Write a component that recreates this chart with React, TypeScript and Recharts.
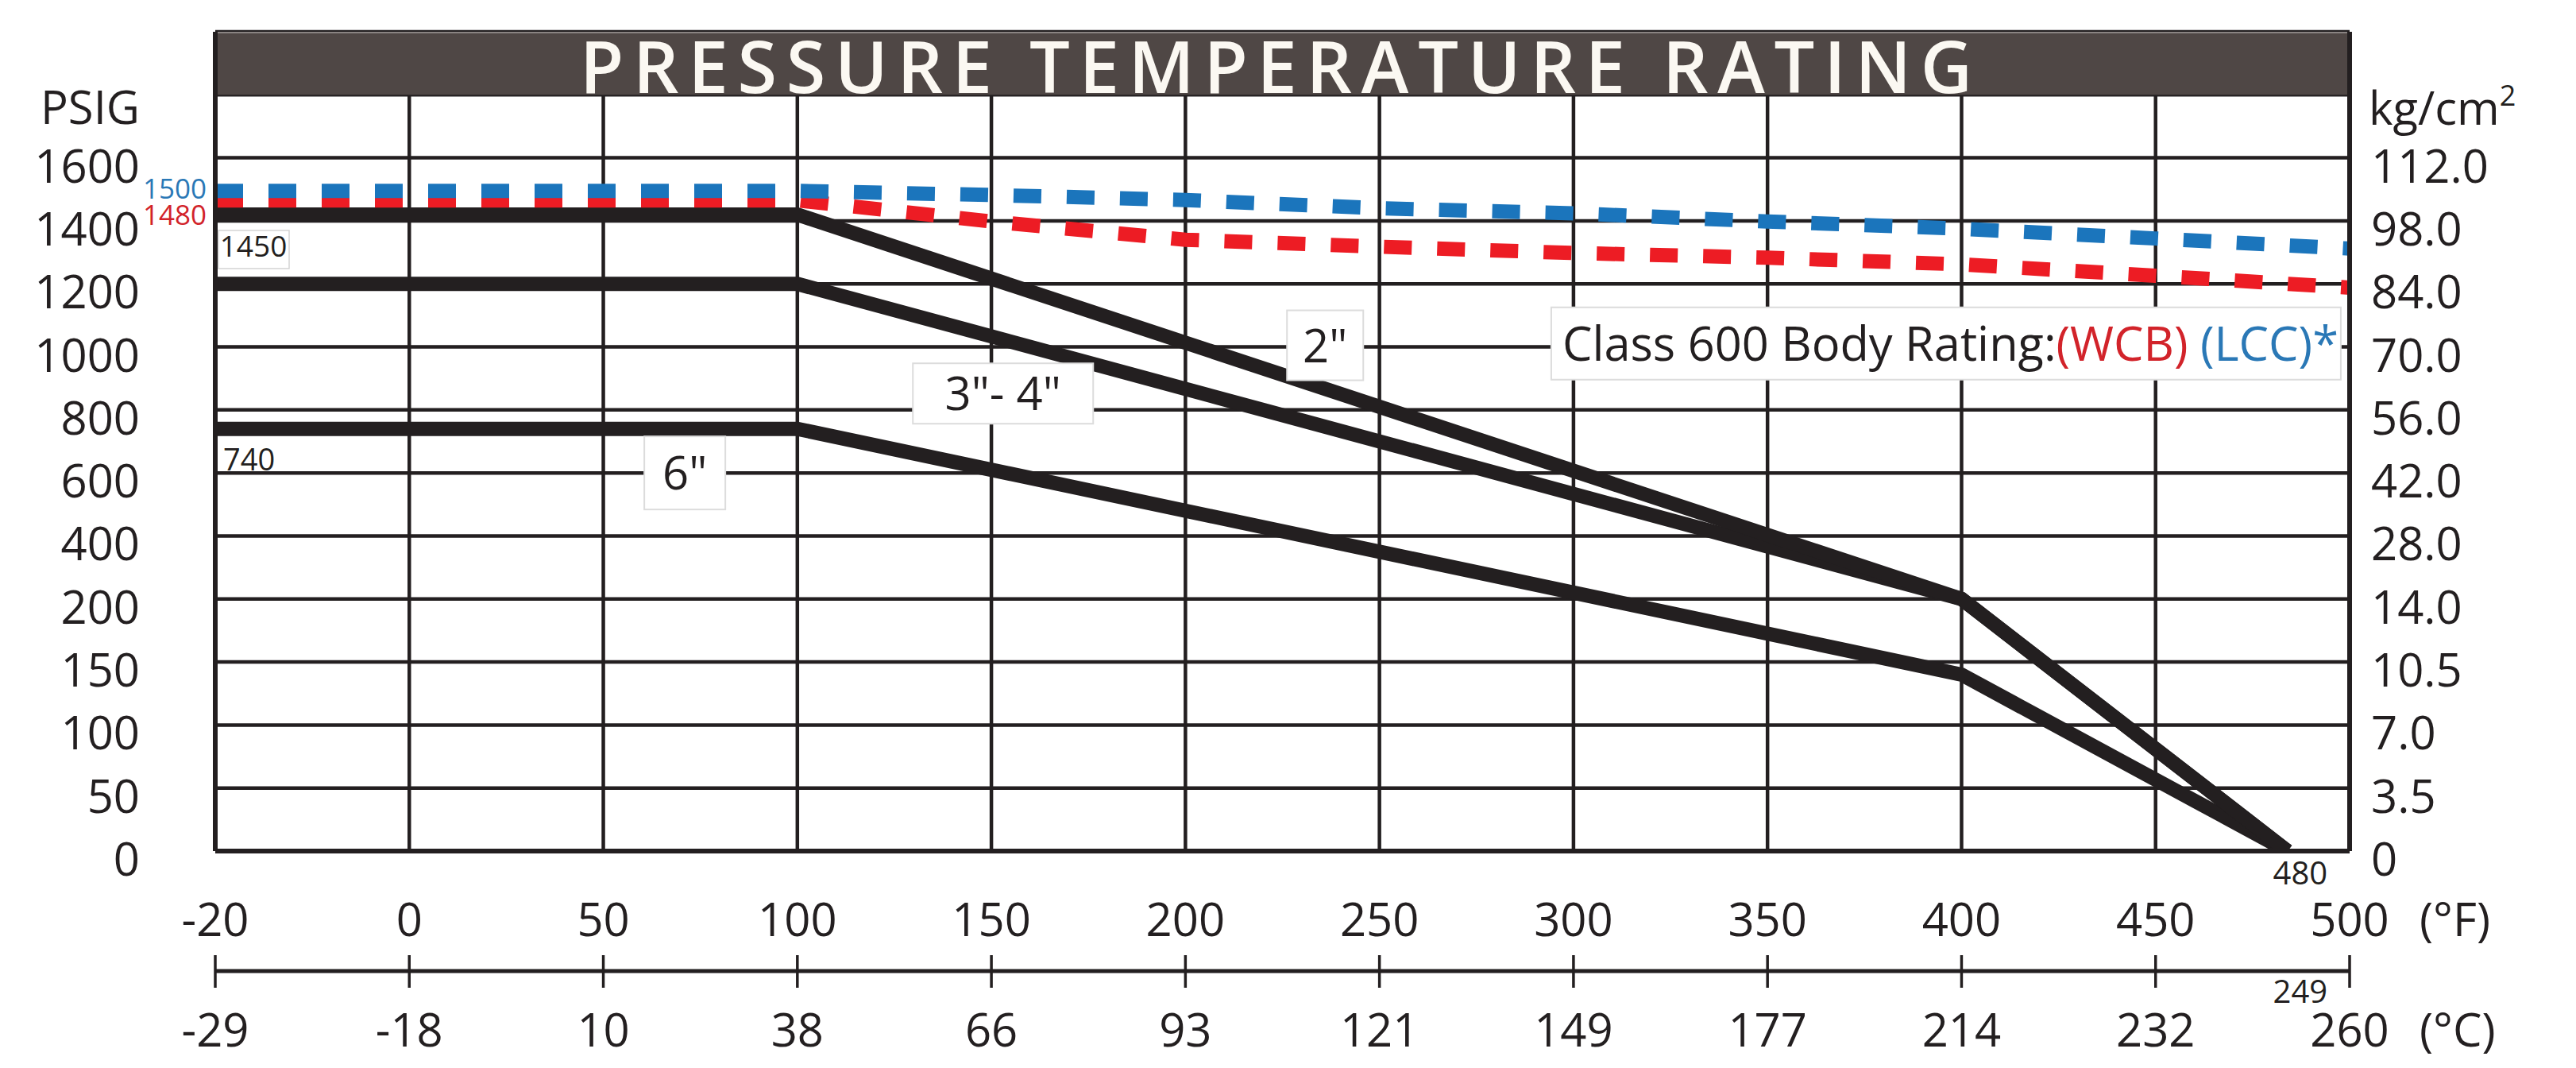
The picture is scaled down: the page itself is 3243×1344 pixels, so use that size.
import React from 'react';
import { ComposedChart, Line, XAxis, YAxis, CartesianGrid, ReferenceArea, ReferenceDot } from 'recharts';

// ---- axis tick labels (gridlines are equally spaced, values are not) ----
const F_TICKS = [-20, 0, 50, 100, 150, 200, 250, 300, 350, 400, 450, 500];
const C_TICKS = ['-29', '-18', '10', '38', '66', '93', '121', '149', '177', '214', '232', '260'];
const PSIG_TICKS = [0, 50, 100, 150, 200, 400, 600, 800, 1000, 1200, 1400, 1600];
const KG_TICKS = ['0', '3.5', '7.0', '10.5', '14.0', '28.0', '42.0', '56.0', '70.0', '84.0', '98.0', '112.0'];

// ---- seat ratings by valve size (°F, PSIG) ----
const SIZE_TEMPS = [-20, 100, 400, 484];
const PSIG_2IN = [1420, 1420, 200, 0];
const PSIG_3_4IN = [1200, 1200, 200, 0];
const PSIG_6IN = [740, 740, 140, 0];

// ---- Class 600 body ratings (°F, PSIG) ----
const BODY_TEMPS = [-20, 100, 150, 200, 250, 300, 350, 400, 450, 500];
const PSIG_WCB = [1465, 1465, 1398, 1340, 1318, 1298, 1283, 1262, 1226, 1188];
const PSIG_LCC = [1495, 1495, 1482, 1466, 1440, 1424, 1398, 1375, 1344, 1312];

// ---- annotations ----
const SIZE_LABELS = ['2"', '3"- 4"', '6"'];
const SIZE_LABEL_F = [236, 153, 71];
const SIZE_LABEL_PSIG = [1005, 852, 600];
const TITLE = 'PRESSURE TEMPERATURE RATING';
const NOTE_F = 396;
const NOTE_PSIG = 1012;

const FONT = '"Open Sans", "Noto Sans", sans-serif';
const INK = '#231f20';
const BLUE = '#1b75bc';
const RED = '#ed1c24';
const BLUE_TXT = '#2a78b6';
const RED_TXT = '#d2232a';

const toIndex = (v: number, ticks: number[]) => {
  for (let i = 0; i < ticks.length - 1; i++) {
    if (v <= ticks[i + 1] || i === ticks.length - 2) {
      return i + (v - ticks[i]) / (ticks[i + 1] - ticks[i]);
    }
  }
  return 0;
};
const fx = (t: number) => toIndex(t, F_TICKS);
const py = (p: number) => toIndex(p, PSIG_TICKS);
const mk = (temps: number[], psig: number[]) => temps.map((t, i) => ({ x: fx(t), y: py(psig[i]) }));

const IDX_11 = F_TICKS.map((_, i) => i);
const IDX_12 = [...PSIG_TICKS.map((_, i) => i), 12];

const LeftTick = (p: any) => {
  const i = Math.round(p.payload.value);
  if (i === 12) {
    return (
      <text x={p.x - 95} y={p.y + 37} textAnchor="end" fontSize={58} fontFamily={FONT} fill={INK}>PSIG</text>
    );
  }
  return (
    <text x={p.x - 95} y={p.y + 31} textAnchor="end" fontSize={58} fontFamily={FONT} fill={INK}>{PSIG_TICKS[i]}</text>
  );
};

const RightTick = (p: any) => {
  const i = Math.round(p.payload.value);
  if (i === 12) {
    return (
      <text x={p.x + 24} y={p.y + 38} textAnchor="start" fontSize={58} fontFamily={FONT} fill={INK}>
        kg/cm<tspan fontSize={36} dy={-24}>2</tspan>
      </text>
    );
  }
  return (
    <text x={p.x + 27} y={p.y + 31} textAnchor="start" fontSize={58} fontFamily={FONT} fill={INK}>{KG_TICKS[i]}</text>
  );
};

const FTick = (p: any) => {
  const i = Math.round(p.payload.value);
  return (
    <g>
      <text x={p.x} y={p.y + 107} textAnchor="middle" fontSize={58} fontFamily={FONT} fill={INK}>{F_TICKS[i]}</text>
      {i === F_TICKS.length - 1 && (
        <text x={p.x + 88} y={p.y + 107} textAnchor="start" fontSize={58} fontFamily={FONT} fill={INK}>(°F)</text>
      )}
    </g>
  );
};

const CTick = (p: any) => {
  const i = Math.round(p.payload.value);
  return (
    <g>
      <line x1={p.x} x2={p.x} y1={p.y - 20} y2={p.y + 21} stroke={INK} strokeWidth={3.5} />
      <text x={p.x} y={p.y + 95} textAnchor="middle" fontSize={58} fontFamily={FONT} fill={INK}>{C_TICKS[i]}</text>
      {i === C_TICKS.length - 1 && (
        <text x={p.x + 88} y={p.y + 95} textAnchor="start" fontSize={58} fontFamily={FONT} fill={INK}>(°C)</text>
      )}
    </g>
  );
};

const TitleBand = (p: any) => (
  <g>
    <rect x={p.x} y={p.y} width={p.width} height={p.height} fill="#4f4745" />
    <line x1={p.x} x2={p.x + p.width} y1={p.y + 1} y2={p.y + 1} stroke="#8a8482" strokeWidth={2} />
    <text
      x={p.x + 459}
      y={p.y + 77}
      textLength={1753}
      lengthAdjust="spacing"
      fontSize={90}
      fontWeight={600}
      fontFamily={FONT}
      fill="#fbf8f2"
    >
      {TITLE}
    </text>
  </g>
);

const sizeBox = (text: string, w: number, h: number) => (p: any) => (
  <g>
    <rect x={p.cx - w / 2} y={p.cy - h / 2} width={w} height={h} fill="#ffffff" stroke="#dcdcdc" strokeWidth={2} />
    <text x={p.cx} y={p.cy + 21} textAnchor="middle" fontSize={58} fontFamily={FONT} fill={INK}>{text}</text>
  </g>
);
const BOX_W = [96, 227, 102];
const BOX_H = [88, 76, 92];

const NoteBox = (p: any) => (
  <g>
    <rect x={p.cx - 497} y={p.cy - 45} width={994} height={91} fill="#ffffff" stroke="#dcdcdc" strokeWidth={2} />
    <text
      x={p.cx - 483}
      y={p.cy + 22}
      textLength={977}
      lengthAdjust="spacingAndGlyphs"
      fontSize={60}
      fontFamily={FONT}
      fill={INK}
    >
      Class 600 Body Rating:<tspan fill={RED_TXT}>(WCB)</tspan> <tspan fill={BLUE_TXT}>(LCC)*</tspan>
    </text>
  </g>
);

const LccStart = (p: any) => (
  <text x={p.cx - 11} y={p.cy + 10} textAnchor="end" fontSize={35} fontFamily={FONT} fill={BLUE_TXT}>1500</text>
);
const WcbStart = (p: any) => (
  <text x={p.cx - 11} y={p.cy + 31} textAnchor="end" fontSize={35} fontFamily={FONT} fill={RED_TXT}>1480</text>
);
const Start2in = (p: any) => (
  <g>
    <rect x={p.cx + 4} y={p.cy + 20} width={89} height={48} fill="#ffffff" stroke="#d4d4d4" strokeWidth={1.5} />
    <text x={p.cx + 48} y={p.cy + 53} textAnchor="middle" fontSize={37} fontFamily={FONT} fill={INK}>1450</text>
  </g>
);
const Start6in = (p: any) => (
  <text x={p.cx + 10} y={p.cy + 52} textAnchor="start" fontSize={38} fontFamily={FONT} fill={INK}>740</text>
);
const EndLabels = (p: any) => (
  <g>
    <text x={p.cx + 16} y={p.cy + 42} textAnchor="middle" fontSize={40} fontFamily={FONT} fill={INK}>480</text>
    <text x={p.cx + 16} y={p.cy + 191} textAnchor="middle" fontSize={40} fontFamily={FONT} fill={INK}>249</text>
  </g>
);

const XF = 'a_fahrenheit';
const XC = 'b_celsius';

export default function App() {
  const d2 = mk(SIZE_TEMPS, PSIG_2IN);
  const d34 = mk(SIZE_TEMPS, PSIG_3_4IN);
  const d6 = mk(SIZE_TEMPS, PSIG_6IN);
  const dWcb = mk(BODY_TEMPS, PSIG_WCB);
  const dLcc = mk(BODY_TEMPS, PSIG_LCC);

  const common = { xAxisId: XF, yAxisId: 'left', dataKey: 'y', type: 'linear' as const, dot: false, activeDot: false, isAnimationActive: false };

  return (
    <div style={{ width: 3227, height: 1328 }}>
      <ComposedChart width={3227} height={1328} margin={{ top: 32, right: 0, bottom: 0, left: 0 }}>
        <CartesianGrid xAxisId={XF} yAxisId="left" stroke={INK} strokeWidth={4.5} fill="none" />
        <XAxis
          xAxisId={XF}
          type="number"
          dataKey="x"
          domain={[0, 11]}
          ticks={IDX_11}
          interval={0}
          height={151}
          tickSize={0}
          tickMargin={0}
          tickLine={false}
          axisLine={{ stroke: INK, strokeWidth: 6 }}
          tick={FTick}
          allowDataOverflow
        />
        <XAxis
          xAxisId={XC}
          type="number"
          dataKey="x"
          domain={[0, 11]}
          ticks={IDX_11}
          interval={0}
          height={114}
          tickSize={0}
          tickMargin={0}
          tickLine={false}
          axisLine={{ stroke: INK, strokeWidth: 5 }}
          tick={CTick}
          allowDataOverflow
        />
        <YAxis
          yAxisId="left"
          type="number"
          domain={[0, 13]}
          ticks={IDX_12}
          interval={0}
          width={263}
          tickSize={0}
          tickMargin={0}
          tickLine={false}
          axisLine={{ stroke: INK, strokeWidth: 6 }}
          tick={LeftTick}
          allowDataOverflow
        />
        <YAxis
          yAxisId="right"
          orientation="right"
          type="number"
          domain={[0, 13]}
          ticks={IDX_12}
          interval={0}
          width={277}
          tickSize={0}
          tickMargin={0}
          tickLine={false}
          axisLine={{ stroke: INK, strokeWidth: 6 }}
          tick={RightTick}
          allowDataOverflow
        />
        <ReferenceArea xAxisId={XF} yAxisId="left" x1={0} x2={11} y1={12} y2={13} shape={TitleBand} ifOverflow="visible" />

        <Line {...common} data={d6} stroke={INK} strokeWidth={18} strokeLinejoin="miter" />
        <Line {...common} data={d34} stroke={INK} strokeWidth={18} strokeLinejoin="miter" />
        <Line {...common} data={d2} stroke={INK} strokeWidth={18} strokeLinejoin="miter" />
        <Line {...common} data={dWcb} stroke={RED} strokeWidth={18} strokeDasharray="35 32" />
        <Line {...common} data={dLcc} stroke={BLUE} strokeWidth={18} strokeDasharray="35 32" />

        {SIZE_LABELS.map((s, i) => (
          <ReferenceDot
            key={s}
            xAxisId={XF}
            yAxisId="left"
            x={fx(SIZE_LABEL_F[i])}
            y={py(SIZE_LABEL_PSIG[i])}
            r={0}
            ifOverflow="visible"
            shape={sizeBox(s, BOX_W[i], BOX_H[i])}
          />
        ))}
        <ReferenceDot xAxisId={XF} yAxisId="left" x={fx(NOTE_F)} y={py(NOTE_PSIG)} r={0} ifOverflow="visible" shape={NoteBox} />
        <ReferenceDot xAxisId={XF} yAxisId="left" x={fx(BODY_TEMPS[0])} y={py(PSIG_LCC[0])} r={0} ifOverflow="visible" shape={LccStart} />
        <ReferenceDot xAxisId={XF} yAxisId="left" x={fx(BODY_TEMPS[0])} y={py(PSIG_WCB[0])} r={0} ifOverflow="visible" shape={WcbStart} />
        <ReferenceDot xAxisId={XF} yAxisId="left" x={fx(SIZE_TEMPS[0])} y={py(PSIG_2IN[0])} r={0} ifOverflow="visible" shape={Start2in} />
        <ReferenceDot xAxisId={XF} yAxisId="left" x={fx(SIZE_TEMPS[0])} y={py(PSIG_6IN[0])} r={0} ifOverflow="visible" shape={Start6in} />
        <ReferenceDot xAxisId={XF} yAxisId="left" x={fx(SIZE_TEMPS[3])} y={py(PSIG_2IN[3])} r={0} ifOverflow="visible" shape={EndLabels} />
      </ComposedChart>
    </div>
  );
}
